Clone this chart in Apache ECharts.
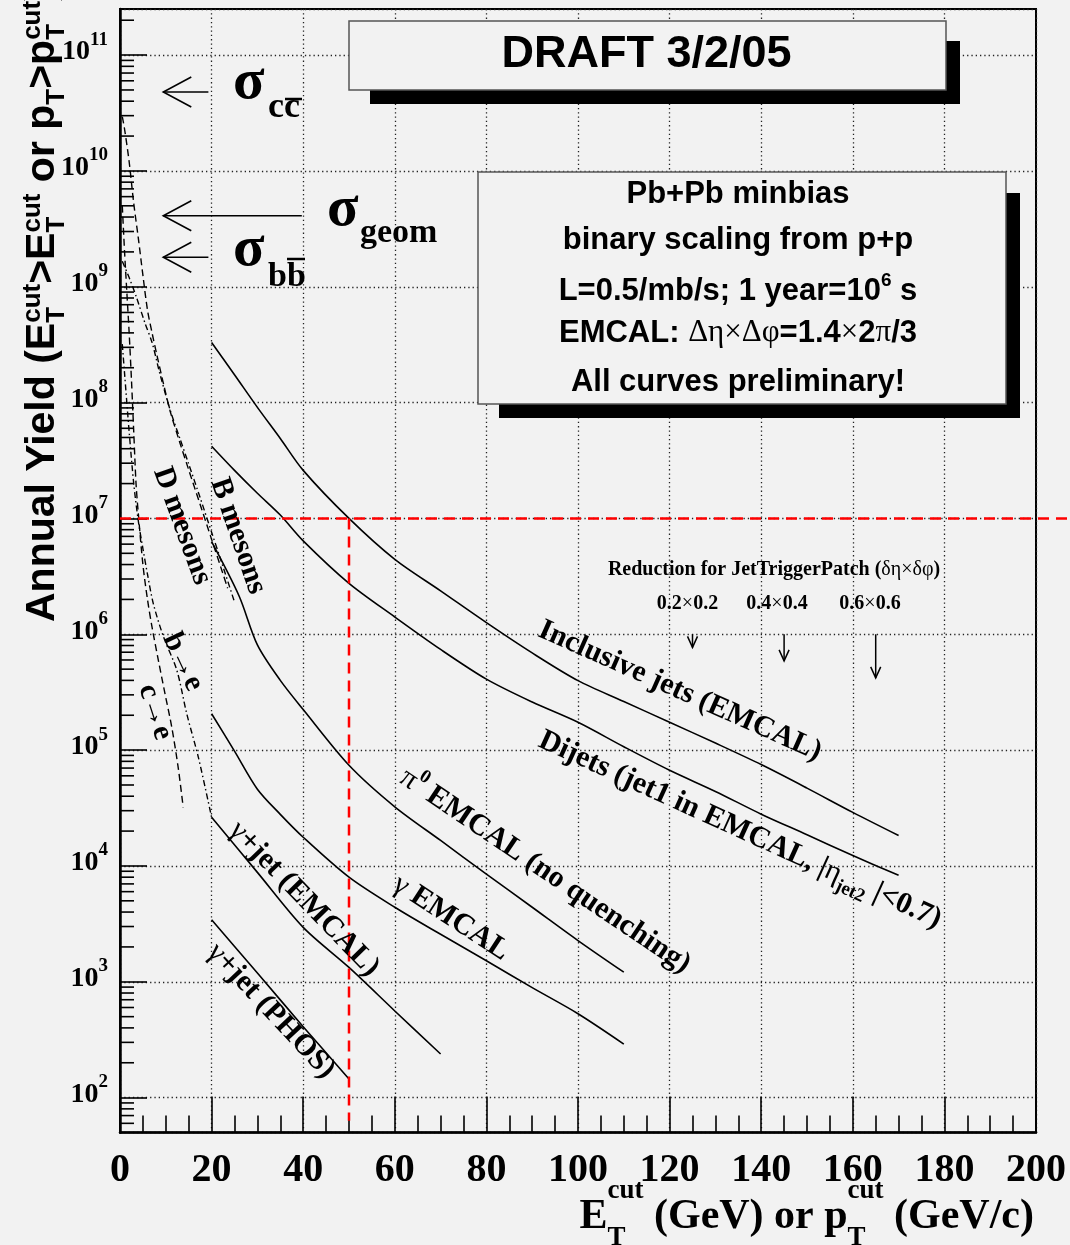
<!DOCTYPE html>
<html>
<head>
<meta charset="utf-8">
<title>Annual Yield</title>
<script src="https://cdn.jsdelivr.net/npm/echarts@6.0.0/dist/echarts.min.js"></script>
<style>
html,body{margin:0;padding:0;background:#f2f2f2;}
#chart{width:1070px;height:1245px;}
</style>
</head>
<body>
<div id="chart"></div>
<script>
// ---------------- data ----------------
const incJetsX = [20,25,30,35,40,50,60,70,80,90,100,110,120,130,140,150,160,170];
const incJetsY = [3.3e8,1.74e8,9.1e7,4.9e7,2.6e7,1.0e7,4.43e6,2.37e6,1.26e6,6.9e5,3.98e5,2.63e5,1.74e5,1.15e5,7.5e4,4.7e4,2.9e4,1.83e4];
const dijetsX = [20,25,30,35,40,50,60,70,80,90,100,110,120,130,140,150,160,170];
const dijetsY = [4.2e7,2.6e7,1.65e7,1.07e7,6.4e6,2.75e6,1.41e6,7.4e5,4.1e5,2.6e5,1.74e5,1.07e5,6.7e4,4.4e4,2.8e4,1.86e4,1.23e4,8.3e3];
const pi0X = [20,26,30,35,40,50,60,70,80,90,100,110];
const pi0Y = [6.3e6,2.14e6,8.1e5,4.0e5,2.24e5,7.4e4,3.24e4,1.66e4,8.5e3,4.4e3,2.27e3,1.21e3];
const gamX = [20,25,30,35,40,50,60,70,80,90,100,110];
const gamY = [2.06e5,9.8e4,4.6e4,2.79e4,1.77e4,8.0e3,4.4e3,2.57e3,1.52e3,8.9e2,5.3e2,2.9e2];
const gjEmcalX = [20,30,40,50,60,70];
const gjEmcalY = [2.63e4,8.8e3,2.95e3,1.33e3,5.6e2,2.38e2];
const gjPhosX = [20,30,40,50];
const gjPhosY = [3.43e3,1.19e3,4.1e2,1.45e2];
const dMesX = [0.5,1,2,3,4,5,6,7,8,9.5,11,13,15,17.5,20,22,23.5];
const dMesY = [2.95e10,2.29e10,1.2e10,5.25e9,2.63e9,1.26e9,6.3e8,4.0e8,2.63e8,1.45e8,8.3e7,4.6e7,2.63e7,1.32e7,6.6e6,3.8e6,2.5e6];
const bMesX = [0.5,2,3.6,5.5,7,8.7,11,13,15,17.5,20,22,25];
const bMesY = [1.66e9,1.2e9,8.1e8,4.8e8,3.3e8,1.78e8,8.5e7,5.0e7,2.95e7,1.51e7,7.6e6,4.4e6,1.9e6];
const cEleX = [0.5,1,1.5,2,2.5,3,3.5,4,5,6,7,8.4,9.8,11.3,12.7,13.8];
const cEleY = [5.0e9,2.0e9,8.9e8,4.0e8,1.58e8,5.6e7,2.0e7,1.1e7,4.0e6,2.0e6,1.15e6,5.9e5,3.1e5,1.58e5,7.1e4,3.2e4];
const bEleX = [0.5,1,2,3,4,5,6,7.3,9.5,12.4,14.6,17.1,20];
const bEleY = [3.2e8,1.78e8,5.6e7,2.0e7,9.5e6,5.5e6,3.3e6,1.82e6,9.5e5,4.9e5,2.04e5,8.7e4,2.63e4];
// cross-section arrows (tip x, tail x, level)
const sigmaTipX = [9.45, 9.45, 9.45];
const sigmaTailX = [19.3, 39.7, 19.3];
const sigmaY = [4.8e10, 4.1e9, 1.8e9];
// trigger-patch reduction arrows
const patchX = [125, 145, 165];
const patchTopY = [1.0e6, 1.0e6, 1.0e6];
const patchEndY = [7.7e5, 5.9e5, 4.2e5];
// red guide lines
const guideStartX = [0, 50];
const guideStartY = [1e7, 1e7];
const guideEndX = [210, 50];
const guideEndY = [1e7, 63];
// axis structure
const xMin = 0, xMax = 200, xStep = 20;
const yMin = 50, yMax = 2.5e11;
const yMinorMult = [2,3,4,5,6,7,8,9];
const yMinorDecades = [1e1,1e2,1e3,1e4,1e5,1e6,1e7,1e8,1e9,1e10,1e11];

// ---------------- helpers ----------------
const SERIF = 'Liberation Serif';
const SANS = 'Liberation Sans';
const pairs = (xs, ys) => xs.map((x, i) => [x, ys[i]]);
function curve(name, xs, ys, dash, w) {
  return {type:'line', name, data: pairs(xs, ys), showSymbol:false, symbol:'none',
    smooth:0.3, silent:true, z:3,
    lineStyle:{color:'#000', width: w || 1.6, type: dash || 'solid', join:'round'}};
}
const mc = document.createElement('canvas').getContext('2d');
function tw(t, size, fam, weight) { mc.font = (weight || 'bold') + ' ' + size + 'px ' + fam; return mc.measureText(t).width; }
function txtEl(x, baseline, t, size, fam, weight, align) {
  const k = fam === SANS ? 0.3465 : 0.3375;
  return {type:'text', x, y: baseline - k*size, silent:true,
    style:{text:t, fontSize:size, fontFamily:fam, fontWeight:weight||'bold', fill:'#000', align:align||'left', verticalAlign:'middle'}};
}
function seq(pieces, fam) {
  const kids = []; let x = 0;
  pieces.forEach(p => {
    const list = p.stack ? p.stack : [p];
    let mw = 0;
    list.forEach(q => {
      kids.push(txtEl(x, q.dy || 0, q.t, q.size, fam, 'bold', 'left'));
      mw = Math.max(mw, tw(q.t, q.size, fam, 'bold'));
    });
    x += mw;
  });
  return {kids, width:x};
}

// ---------------- titles ----------------
const supY = {t:'cut', size:26, dy:-15}, subY = {t:'T', size:26, dy:9};
const yTitle = seq([
  {t:'Annual Yield (E', size:41}, {stack:[supY, subY]}, {t:'>E', size:41}, {stack:[supY, subY]},
  {t:' or p', size:41}, {stack:[subY]}, {t:'>p', size:41}, {stack:[supY, subY]}, {t:')', size:41}
], SANS);
const supX = {t:'cut', size:27, dy:-31}, subX = {t:'T', size:27, dy:16};
const xTitle = seq([
  {t:'E', size:42}, {stack:[supX, subX]}, {t:' (GeV) or p', size:42}, {stack:[supX, subX]}, {t:' (GeV/c)', size:42}
], SERIF);

const labRich = {
  a:{fontSize:30, fontFamily:SERIF, fontWeight:'bold', lineHeight:40},
  g:{fontSize:30, fontFamily:SERIF, fontWeight:'normal', lineHeight:40},
  sup:{fontSize:19, fontFamily:SERIF, fontWeight:'bold', lineHeight:19, verticalAlign:'top'},
  sub:{fontSize:19, fontFamily:SERIF, fontWeight:'bold', lineHeight:19, verticalAlign:'bottom'}
};
function curveLabel(cx, cy, deg, text) {
  return {type:'text', x:cx, y:cy, rotation:-deg*Math.PI/180, silent:true, z:20,
    style:{text, rich:labRich, fontSize:30, fontFamily:SERIF, fontWeight:'bold', fill:'#000', align:'center', verticalAlign:'middle'}};
}
const boxRich = {
  a:{fontSize:31, fontFamily:SANS, fontWeight:'bold', lineHeight:40},
  g:{fontSize:31, fontFamily:SERIF, fontWeight:'normal', lineHeight:40},
  sup:{fontSize:19, fontFamily:SANS, fontWeight:'bold', lineHeight:19, verticalAlign:'top'}
};
function boxLine(cy, text) {
  return {type:'text', x:738, y:cy - 10.7, silent:true, z:30,
    style:{text, rich:boxRich, fontSize:31, fontFamily:SANS, fontWeight:'bold', fill:'#000', align:'center', verticalAlign:'middle'}};
}
const redRich = {
  a:{fontSize:20, fontFamily:SERIF, fontWeight:'bold', lineHeight:24},
  g:{fontSize:20, fontFamily:SERIF, fontWeight:'normal', lineHeight:24}
};
function redLine(cx, baseline, text) {
  return {type:'text', x:cx, y:baseline - 6.8, silent:true, z:20,
    style:{text, rich:redRich, fontSize:20, fontFamily:SERIF, fontWeight:'bold', fill:'#000', align:'center', verticalAlign:'middle'}};
}

const graphics = [
  // DRAFT box
  {type:'rect', z:10, silent:true, shape:{x:370, y:41, width:590, height:63}, style:{fill:'#000'}},
  {type:'rect', z:11, silent:true, shape:{x:349, y:21, width:597, height:69}, style:{fill:'#f2f2f2', stroke:'#555', lineWidth:1.5}},
  Object.assign(txtEl(646.5, 70, 'DRAFT 3/2/05', 45, SANS, 'bold', 'center'), {z:12}),
  // info box
  {type:'rect', z:10, silent:true, shape:{x:499, y:193, width:521, height:225}, style:{fill:'#000'}},
  {type:'rect', z:11, silent:true, shape:{x:478, y:172, width:528, height:232}, style:{fill:'#f2f2f2', stroke:'#555', lineWidth:1.5}},
  boxLine(205, '{a|Pb+Pb minbias}'),
  boxLine(251, '{a|binary scaling from p+p}'),
  boxLine(302, '{a|L=0.5/mb/s; 1 year=10}{sup|6}{a| s}'),
  boxLine(344, '{a|EMCAL: }{g|Δη×Δφ}{a|=1.4}{g|×}{a|2}{g|π}{a|/3}'),
  boxLine(393, '{a|All curves preliminary!}'),
  // trigger patch text
  redLine(774, 577, '{a|Reduction for JetTriggerPatch (}{g|δη×δφ}{a|)}'),
  redLine(687.5, 611, '{a|0.2}{g|×}{a|0.2}'),
  redLine(777, 611, '{a|0.4}{g|×}{a|0.4}'),
  redLine(870, 611, '{a|0.6}{g|×}{a|0.6}'),
  // sigma labels
  Object.assign(txtEl(233, 103, 'σ', 58, SERIF, 'bold'), {z:20}),
  Object.assign(txtEl(268, 120, 'cc', 36, SERIF, 'bold'), {z:20}),
  {type:'line', z:20, silent:true, shape:{x1:285, y1:99, x2:302, y2:99}, style:{stroke:'#000', lineWidth:2.5}},
  Object.assign(txtEl(327, 230, 'σ', 58, SERIF, 'bold'), {z:20}),
  Object.assign(txtEl(360, 245, 'geom', 34, SERIF, 'bold'), {z:20}),
  Object.assign(txtEl(233, 270, 'σ', 58, SERIF, 'bold'), {z:20}),
  Object.assign(txtEl(268, 289, 'bb', 34, SERIF, 'bold'), {z:20}),
  {type:'line', z:20, silent:true, shape:{x1:287, y1:259, x2:305, y2:259}, style:{stroke:'#000', lineWidth:2.5}},
  // curve labels
  curveLabel(680, 691, 24, '{a|Inclusive jets (EMCAL)}'),
  curveLabel(740, 830, 24.5, '{a|Dijets (jet1 in EMCAL, |}{g|η}{sub|jet2}{a| |<0.7)}'),
  curveLabel(545, 871, 34, '{g|π}{sup|0}{a| EMCAL (no quenching)}'),
  curveLabel(451, 918, 33, '{g|γ}{a| EMCAL}'),
  curveLabel(304, 899, 46, '{g|γ}{a|+jet (EMCAL)}'),
  curveLabel(271, 1011, 47, '{g|γ}{a|+jet (PHOS)}'),
  curveLabel(238, 536, 71, '{a|B mesons}'),
  curveLabel(182, 526, 70, '{a|D mesons}'),
  curveLabel(183, 662, 65, '{a|b}{g|→}{a|e}'),
  curveLabel(155, 712, 72, '{a|c}{g|→}{a|e}'),
  // axis titles
  {type:'group', x:57, y:622, rotation:Math.PI/2, z:20, children:yTitle.kids},
  {type:'group', x:1034 - xTitle.width, y:1231, z:20, children:xTitle.kids}
];

const chart = echarts.init(document.getElementById('chart'), null, {renderer:'canvas'});
const option = {
  animation:false,
  backgroundColor:'#f2f2f2',
  grid:{left:120, top:9, width:916, height:1123.5, show:true, borderColor:'#000', borderWidth:2,
    backgroundColor:'transparent', containLabel:false, outerBoundsMode:'none'},
  xAxis:{type:'value', min:xMin, max:xMax, interval:xStep,
    axisLine:{show:true, onZero:false, lineStyle:{color:'#000', width:2.5}},
    axisTick:{show:true, inside:true, length:36, lineStyle:{color:'#000', width:1.6}},
    minorTick:{show:true, splitNumber:4, length:17, lineStyle:{color:'#000', width:1.6}},
    axisLabel:{show:true, margin:18, color:'#000', fontFamily:SERIF, fontWeight:'bold', fontSize:40},
    splitLine:{show:true, lineStyle:{color:'#222', width:1.3, type:[1.3, 3]}},
    minorSplitLine:{show:false}},
  yAxis:{type:'log', logBase:10, min:yMin, max:yMax,
    axisLine:{show:true, onZero:false, lineStyle:{color:'#000', width:2.5}},
    axisTick:{show:true, inside:true, length:27, lineStyle:{color:'#000', width:1.6}},
    minorTick:{show:false},
    axisLabel:{show:true, margin:12, showMinLabel:false, showMaxLabel:false, padding:[0,0,6,0],
      formatter: v => '{b|10}{e|' + Math.round(Math.log10(v)) + '}',
      rich:{
        b:{fontFamily:SERIF, fontWeight:'bold', fontSize:28, lineHeight:44, color:'#000'},
        e:{fontFamily:SERIF, fontWeight:'bold', fontSize:19, lineHeight:19, verticalAlign:'top', color:'#000'}
      }},
    splitLine:{show:true, lineStyle:{color:'#222', width:1.3, type:[1.3, 3]}}},
  graphic:{elements:graphics},
  series:[
    curve('Inclusive jets (EMCAL)', incJetsX, incJetsY),
    curve('Dijets', dijetsX, dijetsY),
    curve('pi0 EMCAL', pi0X, pi0Y),
    curve('gamma EMCAL', gamX, gamY),
    curve('gamma+jet (EMCAL)', gjEmcalX, gjEmcalY),
    curve('gamma+jet (PHOS)', gjPhosX, gjPhosY),
    curve('D mesons', dMesX, dMesY, [7, 4], 1.4),
    curve('B mesons', bMesX, bMesY, [6, 3, 1.5, 3], 1.4),
    curve('c->e', cEleX, cEleY, [7, 4], 1.4),
    curve('b->e', bEleX, bEleY, [6, 3, 1.5, 3], 1.4),
    {type:'custom', name:'guide lines', coordinateSystem:'cartesian2d', silent:true, z:6, clip:false,
      encode:{x:[0, 2], y:[1, 3]},
      data: guideStartX.map((x, i) => [x, guideStartY[i], guideEndX[i], guideEndY[i]]),
      renderItem:(params, api) => {
        const a = api.coord([api.value(0), api.value(1)]);
        const b = api.coord([api.value(2), api.value(3)]);
        return {type:'line', shape:{x1:a[0], y1:a[1], x2:b[0], y2:b[1]},
          style:{stroke:'#ff0000', lineWidth:2.5, lineDash:[11, 7]}};
      }},
    {type:'custom', name:'sigma arrows', coordinateSystem:'cartesian2d', silent:true, z:7, clip:false,
      encode:{x:[0, 1], y:2},
      data: sigmaTipX.map((x, i) => [x, sigmaTailX[i], sigmaY[i]]),
      renderItem:(params, api) => {
        const tip = api.coord([api.value(0), api.value(2)]);
        const end = api.coord([api.value(1), api.value(2)]);
        return {type:'group', children:[
          {type:'line', shape:{x1:tip[0], y1:tip[1], x2:end[0], y2:end[1]}, style:{stroke:'#000', lineWidth:1.6}},
          {type:'polyline', shape:{points:[[tip[0]+28, tip[1]-15], [tip[0], tip[1]], [tip[0]+28, tip[1]+15]]},
            style:{stroke:'#000', fill:null, lineWidth:1.6}}
        ]};
      }},
    {type:'custom', name:'patch arrows', coordinateSystem:'cartesian2d', silent:true, z:7, clip:false,
      encode:{x:0, y:[1, 2]},
      data: patchX.map((x, i) => [x, patchTopY[i], patchEndY[i]]),
      renderItem:(params, api) => {
        const top = api.coord([api.value(0), api.value(1)]);
        const bot = api.coord([api.value(0), api.value(2)]);
        return {type:'group', children:[
          {type:'line', shape:{x1:top[0], y1:top[1], x2:bot[0], y2:bot[1]}, style:{stroke:'#000', lineWidth:1.5}},
          {type:'polyline', shape:{points:[[bot[0]-5, bot[1]-11], [bot[0], bot[1]], [bot[0]+5, bot[1]-11]]},
            style:{stroke:'#000', fill:null, lineWidth:1.5}}
        ]};
      }},
    {type:'custom', name:'y minor ticks', coordinateSystem:'cartesian2d', silent:true, z:4,
      encode:{x:0, y:1},
      data: yMinorDecades.flatMap(d => yMinorMult.map(m => [0, m*d])).filter(p => p[1] > yMin && p[1] < yMax),
      renderItem:(params, api) => {
        const p = api.coord([api.value(0), api.value(1)]);
        return {type:'line', shape:{x1:p[0], y1:p[1], x2:p[0]+14, y2:p[1]}, style:{stroke:'#000', lineWidth:1.6}};
      }}
  ]
};
chart.setOption(option);
</script>
</body>
</html>
